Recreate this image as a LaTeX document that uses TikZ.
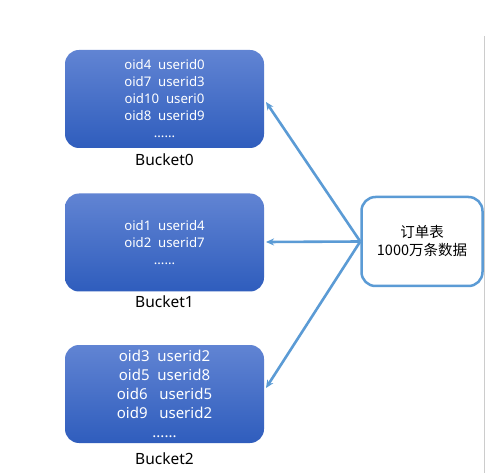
\documentclass[tikz,border=0pt]{standalone}
\usepackage{fontspec}
\setmainfont{Noto Sans}
\newfontfamily\cjk{Noto Sans CJK SC}
\usetikzlibrary{arrows.meta}
\definecolor{btop}{HTML}{6184D3}
\definecolor{bbot}{HTML}{2F5DBD}
\definecolor{aline}{HTML}{5B9BD5}
\tikzset{
  bucket/.style={rounded corners=14pt, top color=btop, bottom color=bbot, draw=none,
    minimum width=199pt, minimum height=98pt, inner sep=0pt, text=white, align=center},
  blabel/.style={font=\fontsize{15.5}{18}\selectfont, text=black},
  tablebox/.style={draw=aline, line width=2.5pt, rounded corners=14pt, fill=white,
    minimum width=121pt, minimum height=89pt, align=center, inner sep=0pt},
  conn/.style={draw=aline, line width=2.6pt, -{Stealth[length=8pt,width=7pt]}},
}
\begin{document}
\begin{tikzpicture}[x=1pt,y=-1pt]
\useasboundingbox (0,0) rectangle (485,473);
\fill[white] (0,0) rectangle (485,473);
\draw[gray!40, line width=0.8pt] (484,36) -- (484,473);
\node[bucket, font=\fontsize{13.2}{17}\selectfont] (b0) at (164.5,99) {oid4\ \ userid0\\oid7\ \ userid3\\oid10\ \ useri0\\oid8\ \ userid9\\......};
\node[blabel] (l0) at (164.5,160) {Bucket0};
\node[bucket, font=\fontsize{13.2}{17}\selectfont] (b1) at (164.5,242.5) {oid1\ \ userid4\\oid2\ \ userid7\\......};
\node[blabel] (l1) at (164.5,302) {Bucket1};
\node[bucket, font=\fontsize{15}{19}\selectfont] (b2) at (164.5,394) {oid3\ \ userid2\\oid5\ \ userid8\\oid6\ \ \ userid5\\oid9\ \ \ userid2\\......};
\node[blabel] (l2) at (164.5,459) {Bucket2};
\node[tablebox, font=\cjk\fontsize{14.5}{18}\selectfont] (t) at (422,241.5) {订单表\\1000万条数据};
\coordinate (s) at (t.west);
\coordinate (e0) at (266,102);
\coordinate (e1) at (266,242);
\coordinate (e2) at (266,388);
\draw[conn] (s) -- (e0);
\draw[conn] (s) -- (e1);
\draw[conn] (s) -- (e2);
\end{tikzpicture}
\end{document}
